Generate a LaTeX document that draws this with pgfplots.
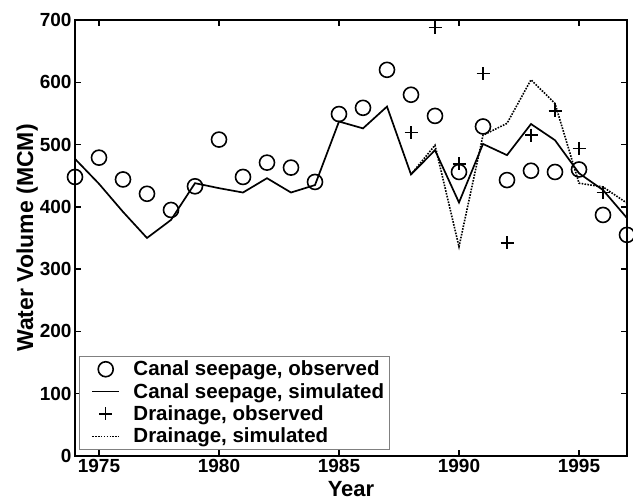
\documentclass[border=0pt]{standalone}
\usepackage{pgfplots}
\pgfplotsset{compat=1.18}
\usepackage{fontspec}
\setmainfont{Liberation Sans}
\begin{document}
\begin{tikzpicture}
\path[use as bounding box] (0,0) rectangle (633pt,502pt);
\begin{axis}[
  at={(75pt,46pt)}, anchor=south west,
  scale only axis,
  width=552pt, height=436pt,
  xmin=1974, xmax=1997, ymin=0, ymax=700,
  xtick={1975,1980,...,1995},
  ytick={0,100,...,700},
  xticklabel style={/pgf/number format/1000 sep={}},
  /pgf/number format/assume math mode=true,
  tick label style={font=\fontsize{19}{21}\selectfont\bfseries},
  xlabel={Year},
  ylabel={Water Volume (MCM)},
  xlabel style={font=\fontsize{22}{24}\selectfont\bfseries, at={([yshift=-41pt]axis description cs:0.5,0)}, anchor=base},
  ylabel style={font=\fontsize{23}{25}\selectfont\bfseries, at={([xshift=-42pt]axis description cs:0,0.5)}, anchor=base, rotate=0},
  tick align=inside,
  major tick length=6pt,
  axis line style={line width=1.9pt},
  every tick/.style={line width=1.4pt, black},
  legend style={at={(0.008,0.014)}, anchor=south west, draw=gray, line width=0.8pt,
    font=\fontsize{20.5}{22}\selectfont\bfseries, row sep=2pt, inner sep=3pt,
    cells={anchor=west}},
  legend cell align=left,
  legend image code/.code={\draw[mark repeat=2,mark phase=2,#1] plot coordinates {(0cm,0cm)(0.475cm,0cm)(0.95cm,0cm)}; \path (-0.3cm,0) (1.35cm,0);},
]
\addplot[only marks, mark=o, mark size=7.5pt, line width=1.6pt] coordinates {
(1974,448)(1975,479)(1976,444)(1977,421)(1978,395)(1979,433)(1980,508)(1981,448)
(1982,471)(1983,463)(1984,440)(1985,549)(1986,559)(1987,620)(1988,580)(1989,546)
(1990,456)(1991,529)(1992,443)(1993,458)(1994,456)(1995,460)(1996,387)(1997,355)};
\addlegendentry{Canal seepage, observed}
\addplot[no marks, line width=1.7pt] coordinates {
(1974,477)(1975,437)(1976,392)(1977,350)(1978,379)(1979,438)(1980,430)(1981,423)
(1982,446)(1983,423)(1984,435)(1985,537)(1986,526)(1987,561)(1988,452)(1989,491)
(1990,407)(1991,501)(1992,483)(1993,533)(1994,507)(1995,454)(1996,427)(1997,382)};
\addlegendentry{Canal seepage, simulated}
\addplot[only marks, mark=+, mark size=6.5pt, line width=1.5pt] coordinates {
(1988,519)(1989,688)(1990,469)(1991,614)(1992,342)(1993,515)(1994,554)(1995,494)(1996,423)};
\addlegendentry{Drainage, observed}
\addplot[no marks, line width=1.6pt, dash pattern=on 1.6pt off 1.3pt] coordinates {
(1988,452)(1989,499)(1990,336)(1991,515)(1992,534)(1993,604)(1994,566)(1995,438)(1996,432)(1997,406)};
\addlegendentry{Drainage, simulated}
\end{axis}
\end{tikzpicture}
\end{document}
